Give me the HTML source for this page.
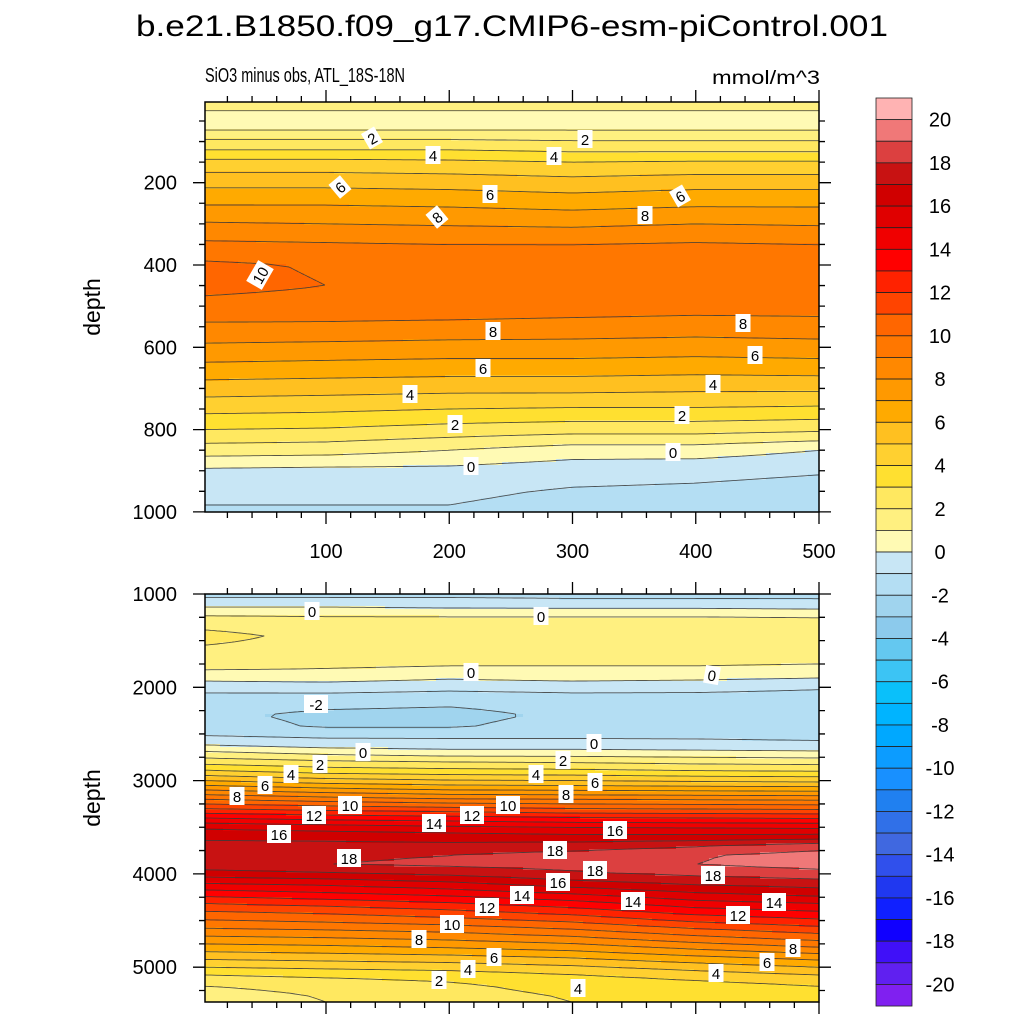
<!DOCTYPE html>
<html><head><meta charset="utf-8">
<style>
html,body{margin:0;padding:0;background:#fff;}
svg text{font-family:"Liberation Sans",sans-serif;}
</style></head>
<body>
<svg id="chart" width="1024" height="1024" viewBox="0 0 1024 1024" xmlns="http://www.w3.org/2000/svg">
<rect x="0" y="0" width="1024" height="1024" fill="#fff"/>
<text x="512" y="36" font-size="30" text-anchor="middle" textLength="752" lengthAdjust="spacingAndGlyphs">b.e21.B1850.f09_g17.CMIP6-esm-piControl.001</text>
<text x="205" y="82" font-size="20" textLength="200" lengthAdjust="spacingAndGlyphs">SiO3 minus obs, ATL_18S-18N</text>
<text x="820" y="84" font-size="19" text-anchor="end" textLength="108" lengthAdjust="spacingAndGlyphs">mmol/m^3</text>
<g id="top-panel"></g>
<g id="bottom-panel"></g>
<g id="colorbar"></g>
</svg>
<script>
// ---- data ----
const xCols = [0, 100, 200, 300, 400, 500];
const topDepths = [5, 35, 50, 70, 95, 120, 150, 200, 250, 300, 350, 400, 450, 500, 550, 600, 650, 700, 750, 800, 850, 900, 950, 1000];
const topValues = [
 [1.2,1.2,1.2,1.2,1.2,1.2],
 [0.9,0.9,0.9,0.9,0.9,0.9],
 [0.6,0.6,0.6,0.6,0.6,0.6],
 [0.9,0.9,0.9,0.9,0.9,0.9],
 [2.0,2.0,2.0,1.9,1.9,1.9],
 [3.0,3.0,3.0,2.8,2.8,2.8],
 [4.3,4.3,4.2,4.0,4.1,4.1],
 [5.7,5.7,5.6,5.4,5.6,5.6],
 [6.9,6.9,6.8,6.6,6.8,6.8],
 [8.1,8.0,7.9,7.8,8.0,7.9],
 [9.2,9.1,9.0,9.0,9.1,9.0],
 [10.2,9.9,9.9,9.7,9.8,9.7],
 [10.3,10.0,9.95,9.8,9.8,9.8],
 [9.7,9.6,9.6,9.5,9.4,9.4],
 [8.8,8.8,8.7,8.6,8.5,8.6],
 [7.8,7.7,7.6,7.6,7.5,7.6],
 [6.7,6.6,6.5,6.5,6.4,6.5],
 [5.5,5.4,5.3,5.3,5.2,5.2],
 [4.3,4.2,4.0,3.9,3.9,3.8],
 [3.0,2.9,2.6,2.4,2.4,2.2],
 [1.5,1.4,1.0,0.5,0.5,0.0],
 [-0.2,-0.3,-0.3,-0.6,-0.7,-0.9],
 [-0.8,-0.8,-0.8,-1.1,-1.2,-1.4],
 [-1.1,-1.1,-1.1,-1.4,-1.5,-1.6]
];
const botDepths = [1000,1050,1100,1180,1250,1450,1650,1800,1900,2000,2150,2300,2420,2520,2620,2700,2800,2900,3000,3100,3200,3300,3400,3500,3600,3700,3800,3900,4000,4100,4200,4300,4400,4500,4600,4700,4800,4900,5000,5100,5200,5300,5375];
const botValues = [
 [-1.3,-1.3,-1.3,-1.3,-1.3,-1.3],
 [-0.9,-0.9,-0.9,-1.0,-1.0,-1.0],
 [-0.4,-0.4,-0.5,-0.6,-0.6,-0.7],
 [0.4,0.4,0.3,0.3,0.3,0.2],
 [1.2,1.1,1.1,1.1,1.1,1.0],
 [2.4,1.6,1.5,1.5,1.5,1.5],
 [1.6,1.5,1.4,1.4,1.4,1.4],
 [1.1,1.0,0.9,0.9,0.9,0.8],
 [0.3,0.4,0.1,0.3,0.2,0.0],
 [-0.6,-0.5,-0.7,-0.6,-0.7,-0.9],
 [-1.6,-1.7,-1.8,-1.6,-1.5,-1.5],
 [-1.8,-2.2,-2.3,-1.8,-1.7,-1.6],
 [-1.6,-2.1,-2.1,-1.6,-1.6,-1.8],
 [-1.0,-1.2,-1.2,-1.2,-1.2,-1.3],
 [0.0,-0.4,-0.5,-0.5,-0.6,-0.7],
 [1.2,0.7,0.4,0.4,0.3,0.2],
 [2.6,2.2,2.0,1.9,1.7,1.6],
 [4.2,3.6,3.4,3.3,3.1,3.0],
 [6.0,5.4,5.1,5.0,4.8,4.7],
 [8.0,7.4,7.0,6.9,6.8,6.7],
 [10.0,9.5,9.1,9.0,8.9,8.8],
 [12.0,11.6,11.3,11.0,10.9,10.8],
 [14.0,13.6,13.4,13.1,13.0,12.9],
 [15.8,15.5,15.2,15.0,14.9,14.8],
 [16.8,16.7,16.5,16.3,16.3,16.4],
 [17.3,17.3,17.3,17.5,17.9,18.6],
 [17.6,17.8,18.0,18.4,18.9,19.4],
 [17.6,18.0,18.2,18.4,19.0,19.4],
 [16.5,16.8,17.2,17.8,18.2,18.6],
 [15.0,15.3,15.8,16.6,17.2,17.5],
 [13.6,14.0,14.5,15.2,16.0,16.5],
 [12.2,12.6,13.1,13.8,14.8,15.2],
 [11.0,11.3,11.8,12.5,13.5,14.0],
 [9.9,10.2,10.6,11.2,12.2,12.8],
 [8.8,9.0,9.3,9.9,10.8,11.5],
 [7.6,7.8,8.1,8.6,9.5,10.2],
 [6.4,6.6,6.9,7.3,8.1,8.8],
 [5.2,5.4,5.6,6.0,6.7,7.3],
 [4.0,4.2,4.4,4.8,5.4,6.0],
 [2.8,3.1,3.3,3.8,4.3,4.8],
 [2.0,2.4,2.8,3.4,3.6,4.0],
 [1.5,2.1,2.6,3.1,3.3,3.6],
 [1.3,2.0,2.5,3.0,3.2,3.5]
];
const topYTicks = [200, 400, 600, 800, 1000];
const botYTicks = [1000, 2000, 3000, 4000, 5000];
const xTicks = [100, 200, 300, 400, 500];
const cbLabels = [20,18,16,14,12,10,8,6,4,2,0,-2,-4,-6,-8,-10,-12,-14,-16,-18,-20];
const binColors = ["#ffb3b3","#f07878","#dc4040","#c81212","#d00000","#e00000","#f00000","#ff0000","#ff2200","#ff4400","#ff6600","#ff7700","#ff8800","#ff9900","#ffaa00","#ffc020","#ffd030","#ffe030","#ffe860","#fff080","#fffab4",
 "#c8e6f5","#b4def3","#a0d4ee","#8ccaec","#64c8f0","#3cc4f4","#0ac0fa","#00b4ff","#00a8ff","#0c9cff","#1890ff","#2080f0","#3070e8","#4068e0","#3050ec","#2038f0","#1020ff","#1000ff","#4010f8","#6020f0","#8020f0"];
const topLabels = [[372,138,"2",-30],[585,139,"2",0],[433,155,"4",0],[554,156,"4",0],[340,187,"6",-40],[490,194,"6",0],[680,196,"6",-30],[437,217,"8",-40],[645,215,"8",0],[260,275,"10",-60],[493,331,"8",0],[743,323,"8",0],[755,355,"6",0],[483,368,"6",0],[713,384,"4",0],[410,394,"4",0],[682,415,"2",0],[455,424,"2",0],[471,466,"0",0],[673,452,"0",0]];
const botLabels = [[312,611,"0",0],[541,616,"0",0],[471,672,"0",0],[712,675,"0",10],[316,704,"-2",0],[363,752,"0",0],[594,743,"0",0],[320,764,"2",0],[563,760,"2",0],[291,774,"4",0],[536,774,"4",0],[265,785,"6",0],[595,782,"6",0],[237,796,"8",0],[566,794,"8",0],[350,805,"10",0],[508,805,"10",0],[314,815,"12",0],[472,815,"12",0],[434,823,"14",0],[615,830,"16",0],[279,834,"16",0],[555,850,"18",0],[349,858,"18",0],[595,870,"18",0],[713,875,"18",0],[558,882,"16",0],[522,895,"14",0],[633,901,"14",0],[487,907,"12",0],[774,902,"14",0],[738,915,"12",0],[452,924,"10",0],[419,939,"8",0],[793,948,"8",0],[494,957,"6",0],[767,962,"6",0],[468,969,"4",0],[716,973,"4",0],[439,980,"2",0],[578,988,"4",0]];

const NS = "http://www.w3.org/2000/svg";
function mk(tag, attrs, parent){const e=document.createElementNS(NS,tag);for(const k in attrs)e.setAttribute(k,attrs[k]);parent.appendChild(e);return e;}
const X0 = 205, X1 = 819;
function xScale(v){return 202.75 + v*1.2325;}
function xInv(px){return (px-202.75)/1.2325;}
function colorFor(v){let k=Math.floor(v);if(k>20)k=20;if(k<-21)k=-21;return binColors[20-k];}
function sample(depths, vals, xv, d){
  let i=0; while(i<depths.length-2 && d>depths[i+1]) i++;
  let t=(d-depths[i])/(depths[i+1]-depths[i]); t=Math.max(0,Math.min(1,t));
  let j=0; while(j<xCols.length-2 && xv>xCols[j+1]) j++;
  let s=(xv-xCols[j])/(xCols[j+1]-xCols[j]); s=Math.max(0,Math.min(1,s));
  const a=vals[i][j]*(1-s)+vals[i][j+1]*s, b=vals[i+1][j]*(1-s)+vals[i+1][j+1]*s;
  return a*(1-t)+b*t;
}
function drawPanel(g, depths, vals, Y0, Y1, yScale, yInv, name){
  const cs=3;
  const nx=Math.ceil((X1-X0)/cs), ny=Math.ceil((Y1-Y0)/cs);
  const fill=mk('g',{},g);
  
  
  for(let r=0;r<ny;r++){
    const py=Y0+r*cs, h=Math.min(cs,Y1-py);
    const d=yInv(py+h/2);
    let runStart=0, runCol=null;
    for(let c=0;c<=nx;c++){
      let col=null;
      if(c<nx){const px=X0+c*cs+Math.min(cs,X1-X0-c*cs)/2;col=colorFor(sample(depths,vals,xInv(px),d));}
      if(col!==runCol){
        if(runCol!==null){
          const x=X0+runStart*cs, w=Math.min(X1,X0+c*cs)-x;
          const rc=mk('rect',{x:x,y:py,width:w+0.5,height:h+0.5,fill:runCol},fill);
          
          
        }
        runStart=c; runCol=col;
      }
    }
  }
  const gs=3; const gx=Math.ceil((X1-X0)/gs)+1, gy=Math.ceil((Y1-Y0)/gs)+1;
  const grid=[];
  for(let r=0;r<gy;r++){const row=[];const py=Math.min(Y1,Y0+r*gs);for(let c=0;c<gx;c++){const px=Math.min(X1,X0+c*gs);row.push(sample(depths,vals,xInv(px),yInv(py)));}grid.push(row);}
  let dstr='';
  for(let L=-20;L<=20;L++){
    for(let r=0;r<gy-1;r++){for(let c=0;c<gx-1;c++){
      const v=[grid[r][c],grid[r][c+1],grid[r+1][c+1],grid[r+1][c]];
      const xa=Math.min(X1,X0+c*gs), xb=Math.min(X1,X0+(c+1)*gs), ya=Math.min(Y1,Y0+r*gs), yb=Math.min(Y1,Y0+(r+1)*gs);
      const P=[[xa,ya],[xb,ya],[xb,yb],[xa,yb]];
      const pts=[];
      for(let e=0;e<4;e++){const a=v[e],b=v[(e+1)%4];if((a<L)!==(b<L)){const t=(L-a)/(b-a);pts.push([P[e][0]+(P[(e+1)%4][0]-P[e][0])*t,P[e][1]+(P[(e+1)%4][1]-P[e][1])*t]);}}
      for(let k=0;k+1<pts.length;k+=2)dstr+='M'+pts[k][0].toFixed(1)+' '+pts[k][1].toFixed(1)+'L'+pts[k+1][0].toFixed(1)+' '+pts[k+1][1].toFixed(1);
    }}
  }
  const cl=mk('path',{d:dstr,stroke:'#3a3a3a','stroke-width':0.9,fill:'none','stroke-opacity':0.85},g);
  
  
  const fr=mk('rect',{x:X0,y:Y0,width:X1-X0,height:Y1-Y0,fill:'none',stroke:'#000','stroke-width':1.5},g);
  
  
}
function drawLabels(g, list, name){
  const lg=mk('g',{},g);
  
  
  for(const [x,y,t,rot] of list){
    const gg=mk('g',{transform:'translate('+x+','+y+') rotate('+rot+')'},lg);
    
    
    const w=t.length*9+6;
    mk('rect',{x:-w/2,y:-9,width:w,height:18,fill:'#fff'},gg);
    const tx=mk('text',{x:0,y:6,'font-size':15,'text-anchor':'middle',fill:'#000'},gg);
    tx.textContent=t;
  }
}
function axes(g, Y0, Y1, yScale, yTicks, minorStep, yMin, yMax, showXLabels, name){
  let d='';
  for(let v=Math.ceil(yMin/minorStep)*minorStep; v<=yMax; v+=minorStep){
    const y=yScale(v); if(y<Y0-0.5||y>Y1+0.5)continue;
    const major=yTicks.indexOf(v)>=0; const L=major?12:6;
    d+='M'+(X0-L)+' '+y+'H'+X0+'M'+X1+' '+y+'H'+(X1+L);
  }
  for(let v=20; v<=500; v+=20){
    const x=xScale(v); const major=v%100===0; const L=major?12:6;
    d+='M'+x+' '+(Y0-L)+'V'+Y0+'M'+x+' '+Y1+'V'+(Y1+L);
  }
  const tp=mk('path',{d:d,stroke:'#000','stroke-width':1.3,fill:'none'},g);
  
  
  for(const v of yTicks){
    const t=mk('text',{x:X0-28,y:yScale(v)+7,'font-size':20,'text-anchor':'end'},g);
    
    
    t.textContent=v;
  }
  if(showXLabels){for(const v of xTicks){
    const t=mk('text',{x:xScale(v),y:Y1+46,'font-size':20,'text-anchor':'middle'},g);
    
    
    t.textContent=v;
  }}
  const yt=mk('text',{x:0,y:0,'font-size':23,'text-anchor':'middle',transform:'translate(100,'+((Y0+Y1)/2)+') rotate(-90)'},g);
  
  
  yt.textContent='depth';
}
const tY0=102, tY1=512;
const tS=d=>100.4+d*0.4115, tI=y=>(y-100.4)/0.4115;
const tg=document.getElementById('top-panel');
drawPanel(tg, topDepths, topValues, tY0, tY1, tS, tI, 'top-panel');
drawLabels(tg, topLabels, 'top-panel');
axes(tg, tY0, tY1, tS, topYTicks, 50, 0, 1000, true, 'top-panel');
const bY0=594, bY1=1002;
const bS=d=>594+(d-1000)*0.0933, bI=y=>1000+(y-594)/0.0933;
const bg=document.getElementById('bottom-panel');
drawPanel(bg, botDepths, botValues, bY0, bY1, bS, bI, 'bottom-panel');
drawLabels(bg, botLabels, 'bottom-panel');
axes(bg, bY0, bY1, bS, botYTicks, 250, 1000, 5375, false, 'bottom-panel');
const cb=document.getElementById('colorbar');
const cbTop=98, boxH=21.62, cbX=876, cbW=36;
binColors.forEach((c,i)=>{
  const r=mk('rect',{x:cbX,y:cbTop+i*boxH,width:cbW,height:boxH,fill:c,stroke:'#222','stroke-width':0.8},cb);
  
  
});
cbLabels.forEach(v=>{
  const y=cbTop+(21-v)*boxH;
  const t=mk('text',{x:940,y:y+7,'font-size':20,'text-anchor':'middle'},cb);
  
  
  t.textContent=v;
});
</script>
</body></html>
